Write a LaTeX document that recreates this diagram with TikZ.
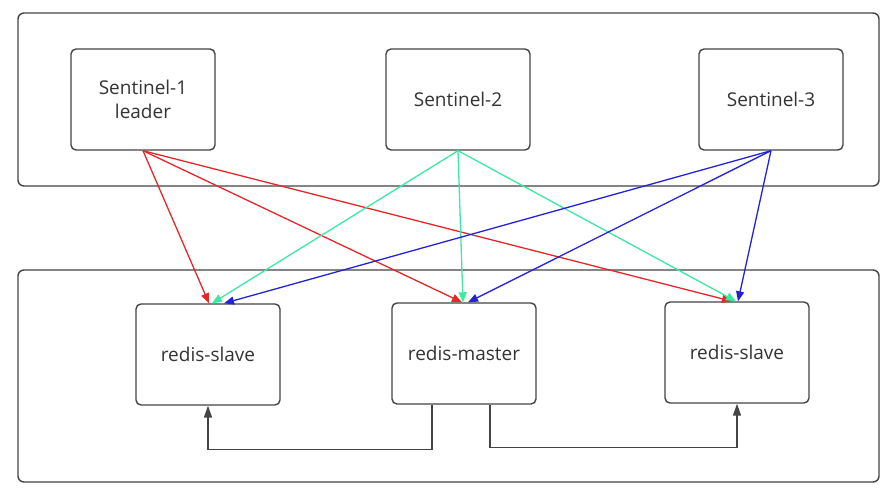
\documentclass[tikz,border=0pt]{standalone}
\usepackage{fontspec}
\setmainfont{Open Sans}
\usepackage{xcolor}
\usepackage{tikz}
\usetikzlibrary{arrows.meta}
\definecolor{vote}{HTML}{E5262B}
\definecolor{mint}{HTML}{3CE8A2}
\definecolor{watch}{HTML}{2323D6}
\definecolor{frame}{HTML}{444444}

\begin{document}
\begin{tikzpicture}[x=1pt,y=-1pt,
  box/.style={draw=frame,line width=1.4pt,rounded corners=5pt,minimum width=144pt,
    minimum height=101pt,align=center,text=black!80,font=\fontsize{19}{24}\selectfont},
  group/.style={draw=frame,line width=1.4pt,rounded corners=6pt},
  link/.style={-{Triangle[length=10pt,width=8pt]},line width=1.3pt},
  repl/.style={-{Triangle[length=12pt,width=8pt]},draw=frame,line width=1.5pt}]
\useasboundingbox (0,0) rectangle (895,497);
\draw [group] (18,13) rectangle (879,186);
\draw [group] (18,270) rectangle (879,482);
\node [box] (s1) at (143,99.5) {Sentinel-1\\leader};
\node [box] (s2) at (458,99.5) {Sentinel-2};
\node [box] (s3) at (771,99.5) {Sentinel-3};
\node [box] (a) at (208,354.5) {redis-slave};
\node [box] (m) at (464,353.5) {redis-master};
\node [box] (b) at (737,352.5) {redis-slave};
% sentinels watching every redis node
\draw [link,vote] (s1.south) -- ([xshift=1pt]a.north);
\draw [link,vote] (s1.south) -- ([xshift=-2pt]m.north);
\draw [link,vote] (s1.south) -- ([xshift=-5pt]b.north);
\draw [link,mint] (s2.south) -- ([xshift=4pt]a.north);
\draw [link,mint] (s2.south) -- ([xshift=-1pt]m.north);
\draw [link,mint] (s2.south) -- ([xshift=-1pt]b.north);
\draw [link,watch] (s3.south) -- ([xshift=16pt]a.north);
\draw [link,watch] (s3.south) -- ([xshift=4pt]m.north);
\draw [link,watch] (s3.south) -- ([xshift=1pt]b.north);
% replication
\draw [repl] ([xshift=-32pt]m.south) -- ++(0,45) -| (a.south);
\draw [repl] ([xshift=26pt]m.south) -- ++(0,43) -| (b.south);
\end{tikzpicture}
\end{document}
